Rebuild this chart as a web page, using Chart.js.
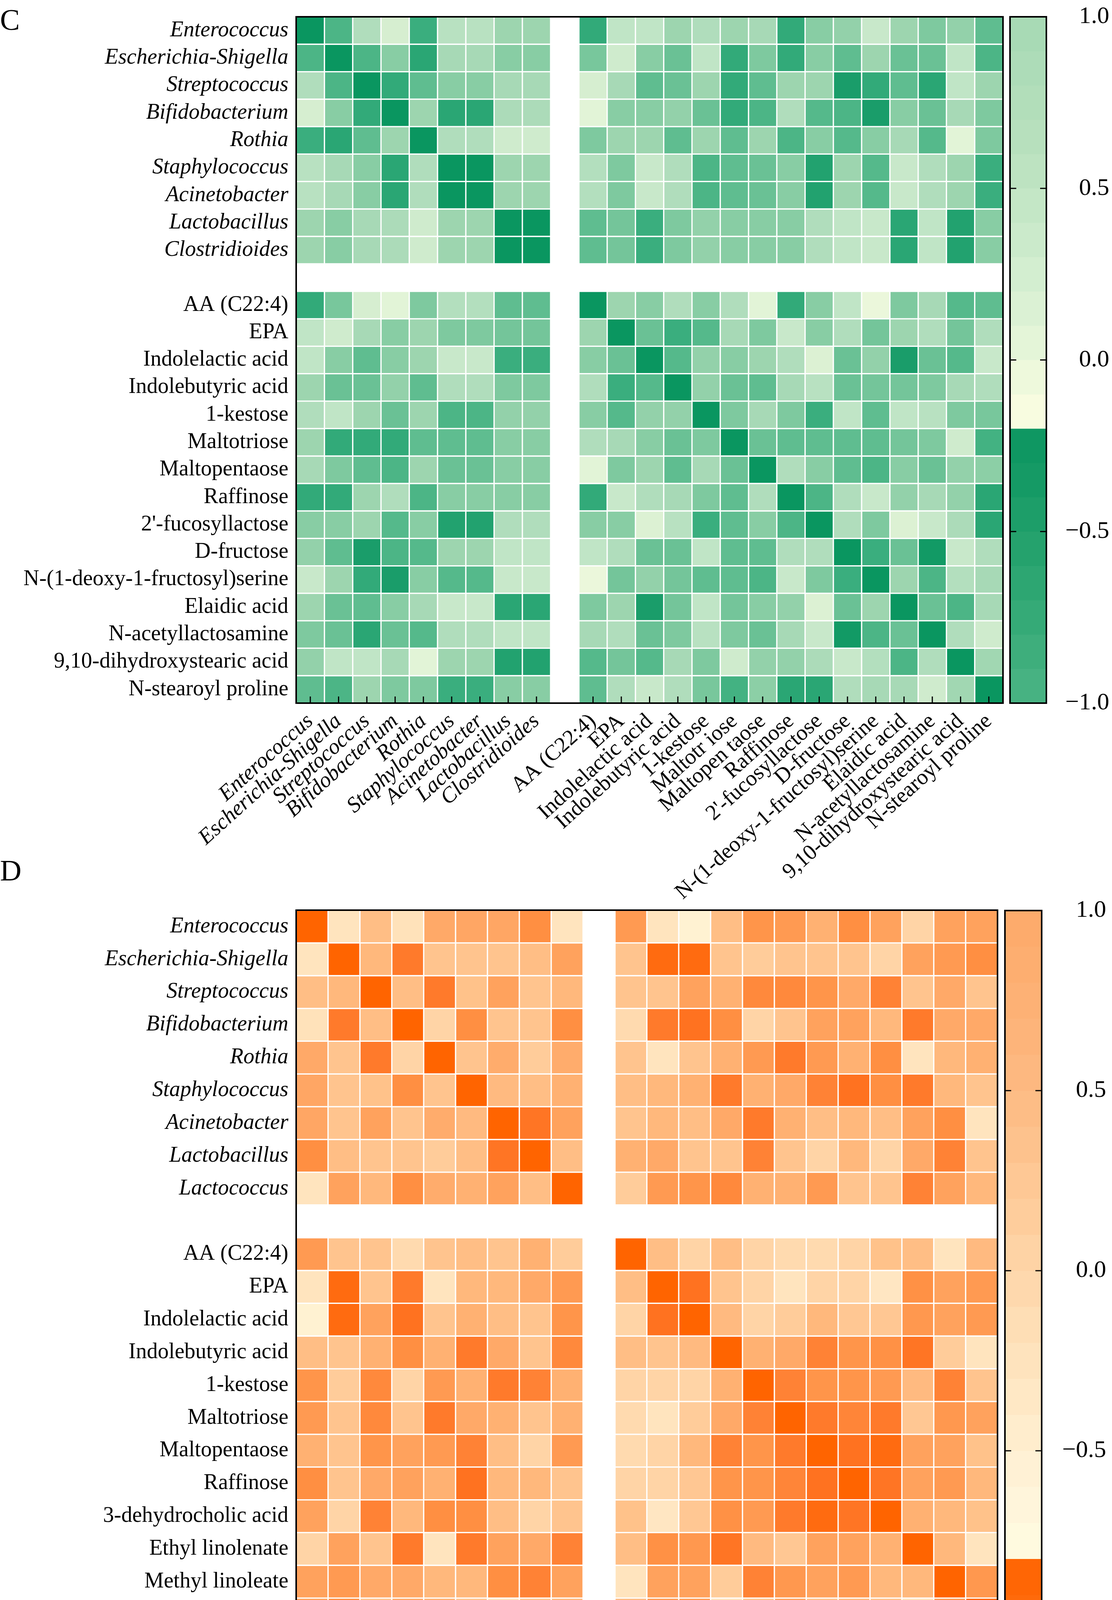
<!DOCTYPE html>
<html>
<head>
<meta charset="utf-8">
<script src="https://cdn.jsdelivr.net/npm/chart.js@4.4.1/dist/chart.umd.min.js"></script>
<style>
  html, body { margin: 0; background: #fff; }
  body { position: relative; width: 2846px; height: 4742px; overflow: hidden; font-family: 'Liberation Serif', 'Times New Roman', serif; }
  canvas { position: absolute; }
  .panel { position: absolute; left: 0; font-size: 76px; line-height: 1; color: #000; }
</style>
</head>
<body>
<div class="panel" style="top:12px">C</div>
<div class="panel" style="top:2190px">D</div>
<canvas id="heatC" width="2572" height="2330" style="left:0;top:0"></canvas>
<canvas id="barC" width="276" height="1850" style="left:2570px;top:0"></canvas>
<canvas id="heatD" width="2560" height="2542" style="left:0;top:2200px"></canvas>
<canvas id="barD" width="286" height="2050" style="left:2560px;top:2200px"></canvas>
<script>
// ---- panel C labels
const bacteriaC = ['Enterococcus', 'Escherichia-Shigella', 'Streptococcus', 'Bifidobacterium', 'Rothia',
  'Staphylococcus', 'Acinetobacter', 'Lactobacillus', 'Clostridioides'];
const metabolitesC = ['AA (C22:4)', 'EPA', 'Indolelactic acid', 'Indolebutyric acid', '1-kestose', 'Maltotriose',
  'Maltopentaose', 'Raffinose', "2'-fucosyllactose", 'D-fructose', 'N-(1-deoxy-1-fructosyl)serine', 'Elaidic acid',
  'N-acetyllactosamine', '9,10-dihydroxystearic acid', 'N-stearoyl proline'];
// the bottom axis of the figure spells two of them differently
const metaboliteTicksC = ['AA (C22:4)', 'EPA', 'Indolelactic acid', 'Indolebutyric acid', '1-kestose', 'Maltotr iose',
  'Maltopen taose', 'Raffinose', "2'-fucosyllactose", 'D-fructose', 'N-(1-deoxy-1-fructosyl)serine', 'Elaidic acid',
  'N-acetyllactosamine', '9,10-dihydroxystearic acid', 'N-stearoyl proline'];

// correlation matrix C, rows in the order bacteriaC + metabolitesC
const corrC = [
  [1.0, 0.6, 0.1, -0.15, 0.7, 0.05, 0.05, 0.2, 0.2, 0.75, 0.0, 0.0, 0.2, 0.1, 0.2, 0.15, 0.75, 0.3, 0.25, -0.05, 0.2, 0.35, 0.25, 0.5],
  [0.6, 1.0, 0.6, 0.3, 0.8, 0.15, 0.15, 0.3, 0.3, 0.38, -0.1, 0.3, 0.45, 0.0, 0.75, 0.35, 0.75, 0.3, 0.5, 0.2, 0.45, 0.45, 0.0, 0.6],
  [0.1, 0.6, 1.0, 0.75, 0.5, 0.3, 0.3, 0.15, 0.15, -0.15, 0.15, 0.5, 0.45, 0.2, 0.75, 0.5, 0.2, 0.2, 0.9, 0.75, 0.5, 0.8, 0.0, 0.2],
  [-0.15, 0.3, 0.75, 1.0, 0.2, 0.8, 0.8, 0.12, 0.12, -0.25, 0.3, 0.3, 0.25, 0.45, 0.75, 0.6, 0.1, 0.55, 0.6, 0.9, 0.3, 0.45, 0.15, 0.35],
  [0.7, 0.8, 0.5, 0.2, 1.0, 0.1, 0.1, -0.1, -0.1, 0.35, 0.2, 0.2, 0.5, 0.2, 0.5, 0.2, 0.6, 0.3, 0.55, 0.3, 0.15, 0.55, -0.25, 0.35],
  [0.05, 0.15, 0.3, 0.8, 0.1, 1.0, 1.0, 0.2, 0.2, 0.08, 0.35, -0.05, 0.1, 0.6, 0.5, 0.45, 0.3, 0.85, 0.2, 0.55, -0.05, 0.1, 0.2, 0.7],
  [0.05, 0.15, 0.3, 0.8, 0.1, 1.0, 1.0, 0.2, 0.2, 0.08, 0.35, -0.05, 0.1, 0.6, 0.5, 0.45, 0.3, 0.85, 0.2, 0.55, -0.05, 0.1, 0.2, 0.7],
  [0.2, 0.3, 0.15, 0.12, -0.1, 0.2, 0.2, 1.0, 1.0, 0.5, 0.4, 0.7, 0.35, 0.25, 0.3, 0.3, 0.3, 0.1, 0.0, -0.05, 0.8, 0.0, 0.85, 0.3],
  [0.2, 0.3, 0.15, 0.12, -0.1, 0.2, 0.2, 1.0, 1.0, 0.5, 0.4, 0.7, 0.35, 0.25, 0.3, 0.3, 0.3, 0.1, 0.0, -0.05, 0.8, 0.0, 0.85, 0.3],
  [0.75, 0.38, -0.15, -0.25, 0.35, 0.08, 0.08, 0.5, 0.5, 1.0, 0.2, 0.3, 0.1, 0.3, 0.1, -0.25, 0.75, 0.3, 0.0, -0.35, 0.35, 0.15, 0.55, 0.5],
  [0.0, -0.1, 0.15, 0.3, 0.2, 0.35, 0.35, 0.4, 0.4, 0.2, 1.0, 0.45, 0.7, 0.55, 0.15, 0.35, -0.05, 0.3, 0.1, 0.4, 0.2, 0.1, 0.4, 0.1],
  [0.0, 0.3, 0.5, 0.3, 0.2, -0.05, -0.05, 0.7, 0.7, 0.3, 0.45, 1.0, 0.55, 0.25, 0.3, 0.2, 0.1, -0.2, 0.45, 0.25, 0.9, 0.45, 0.55, -0.05],
  [0.2, 0.45, 0.45, 0.25, 0.5, 0.1, 0.1, 0.35, 0.35, 0.1, 0.7, 0.55, 1.0, 0.25, 0.45, 0.5, 0.15, 0.05, 0.45, 0.4, 0.4, 0.35, 0.15, 0.1],
  [0.1, 0.0, 0.2, 0.45, 0.2, 0.6, 0.6, 0.25, 0.25, 0.3, 0.55, 0.25, 0.25, 1.0, 0.35, 0.15, 0.35, 0.7, 0.0, 0.5, 0.0, 0.05, 0.35, 0.38],
  [0.2, 0.75, 0.75, 0.75, 0.5, 0.5, 0.5, 0.3, 0.3, 0.1, 0.15, 0.3, 0.45, 0.35, 1.0, 0.45, 0.5, 0.5, 0.5, 0.5, 0.4, 0.35, -0.1, 0.65],
  [0.15, 0.35, 0.5, 0.6, 0.2, 0.45, 0.45, 0.3, 0.3, -0.25, 0.35, 0.2, 0.5, 0.15, 0.45, 1.0, 0.1, 0.3, 0.5, 0.6, 0.3, 0.45, 0.25, 0.28],
  [0.75, 0.75, 0.2, 0.1, 0.6, 0.3, 0.3, 0.3, 0.3, 0.75, -0.05, 0.1, 0.15, 0.35, 0.5, 0.1, 1.0, 0.6, 0.1, -0.05, 0.25, 0.15, 0.25, 0.8],
  [0.3, 0.3, 0.2, 0.55, 0.3, 0.85, 0.85, 0.1, 0.1, 0.3, 0.3, -0.2, 0.05, 0.7, 0.5, 0.3, 0.6, 1.0, 0.1, 0.35, -0.2, -0.05, 0.12, 0.8],
  [0.25, 0.5, 0.9, 0.6, 0.55, 0.2, 0.2, 0.0, 0.0, 0.0, 0.1, 0.45, 0.45, 0.0, 0.5, 0.5, 0.1, 0.1, 1.0, 0.7, 0.45, 0.95, -0.05, 0.1],
  [-0.05, 0.2, 0.75, 0.9, 0.3, 0.55, 0.55, -0.05, -0.05, -0.35, 0.4, 0.25, 0.4, 0.5, 0.5, 0.6, -0.05, 0.35, 0.7, 1.0, 0.2, 0.6, 0.08, 0.15],
  [0.2, 0.45, 0.5, 0.3, 0.15, -0.05, -0.05, 0.8, 0.8, 0.35, 0.2, 0.9, 0.4, 0.0, 0.4, 0.3, 0.25, -0.2, 0.45, 0.2, 1.0, 0.45, 0.6, 0.15],
  [0.35, 0.45, 0.8, 0.45, 0.55, 0.1, 0.1, 0.0, 0.0, 0.15, 0.1, 0.45, 0.35, 0.05, 0.35, 0.45, 0.15, -0.05, 0.95, 0.6, 0.45, 1.0, 0.1, -0.1],
  [0.25, 0.0, 0.0, 0.15, -0.25, 0.2, 0.2, 0.85, 0.85, 0.55, 0.4, 0.55, 0.15, 0.35, -0.1, 0.25, 0.25, 0.12, -0.05, 0.08, 0.6, 0.1, 1.0, 0.18],
  [0.5, 0.6, 0.2, 0.35, 0.35, 0.7, 0.7, 0.3, 0.3, 0.5, 0.1, -0.05, 0.1, 0.38, 0.65, 0.28, 0.8, 0.8, 0.1, 0.15, 0.15, -0.1, 0.18, 1.0]
];

// ---- panel D labels
const bacteriaD = ['Enterococcus', 'Escherichia-Shigella', 'Streptococcus', 'Bifidobacterium', 'Rothia',
  'Staphylococcus', 'Acinetobacter', 'Lactobacillus', 'Lactococcus'];
const metabolitesD = ['AA (C22:4)', 'EPA', 'Indolelactic acid', 'Indolebutyric acid', '1-kestose', 'Maltotriose',
  'Maltopentaose', 'Raffinose', '3-dehydrocholic acid', 'Ethyl linolenate', 'Methyl linoleate',
  'Conjugated linoleic acids (CLA)'];
const metaboliteTicksD = ['AA (C22:4)', 'EPA', 'Indolelactic acid', 'Indolebutyric acid', '1-kestose', 'Maltotriose',
  'Maltopentaose', 'Raffinose', '3 -dehydrocholic acid', 'Ethyl linolenate', 'Methyl linoleate',
  'Conjugated linoleic acids (CLA)'];

const corrD = [
  [1.0, 0.05, 0.35, 0.08, 0.5, 0.52, 0.52, 0.7, 0.05, 0.6, 0.05, -0.1, 0.35, 0.65, 0.6, 0.45, 0.7, 0.55, 0.2, 0.55, 0.55],
  [0.05, 1.0, 0.4, 0.85, 0.3, 0.3, 0.3, 0.35, 0.55, 0.3, 0.95, 0.95, 0.3, 0.25, 0.3, 0.3, 0.3, 0.2, 0.55, 0.6, 0.7],
  [0.35, 0.4, 1.0, 0.35, 0.85, 0.32, 0.55, 0.3, 0.4, 0.3, 0.3, 0.55, 0.45, 0.75, 0.75, 0.65, 0.5, 0.8, 0.3, 0.5, 0.3],
  [0.08, 0.85, 0.35, 1.0, 0.2, 0.7, 0.3, 0.3, 0.7, 0.15, 0.85, 0.9, 0.7, 0.2, 0.3, 0.55, 0.55, 0.4, 0.85, 0.5, 0.5],
  [0.5, 0.3, 0.85, 0.2, 1.0, 0.3, 0.48, 0.25, 0.48, 0.3, 0.05, 0.3, 0.45, 0.6, 0.85, 0.6, 0.45, 0.7, 0.05, 0.4, 0.45],
  [0.52, 0.3, 0.32, 0.7, 0.3, 1.0, 0.38, 0.35, 0.45, 0.35, 0.4, 0.45, 0.85, 0.45, 0.5, 0.8, 0.9, 0.7, 0.85, 0.4, 0.3],
  [0.52, 0.3, 0.55, 0.3, 0.48, 0.38, 1.0, 0.88, 0.55, 0.3, 0.4, 0.35, 0.5, 0.85, 0.45, 0.35, 0.4, 0.35, 0.55, 0.7, 0.05],
  [0.7, 0.35, 0.3, 0.3, 0.25, 0.35, 0.88, 1.0, 0.35, 0.45, 0.5, 0.3, 0.3, 0.8, 0.3, 0.2, 0.4, 0.2, 0.5, 0.8, 0.3],
  [0.05, 0.55, 0.4, 0.7, 0.48, 0.45, 0.55, 0.35, 1.0, 0.25, 0.6, 0.65, 0.75, 0.45, 0.45, 0.6, 0.3, 0.3, 0.8, 0.55, 0.4],
  [0.6, 0.3, 0.3, 0.15, 0.3, 0.35, 0.3, 0.45, 0.25, 1.0, 0.35, 0.2, 0.35, 0.2, 0.15, 0.15, 0.2, 0.32, 0.35, 0.05, 0.38],
  [0.05, 0.95, 0.3, 0.85, 0.05, 0.4, 0.4, 0.5, 0.6, 0.35, 1.0, 0.9, 0.3, 0.2, 0.05, 0.2, 0.2, 0.02, 0.68, 0.55, 0.6],
  [-0.1, 0.95, 0.55, 0.9, 0.3, 0.45, 0.35, 0.3, 0.65, 0.2, 0.9, 1.0, 0.38, 0.2, 0.25, 0.4, 0.28, 0.28, 0.62, 0.55, 0.6],
  [0.35, 0.3, 0.45, 0.7, 0.45, 0.85, 0.5, 0.3, 0.75, 0.35, 0.3, 0.38, 1.0, 0.45, 0.5, 0.8, 0.65, 0.68, 0.88, 0.25, 0.05],
  [0.65, 0.25, 0.75, 0.2, 0.6, 0.45, 0.85, 0.8, 0.45, 0.2, 0.2, 0.2, 0.45, 1.0, 0.8, 0.65, 0.65, 0.6, 0.38, 0.8, 0.3],
  [0.6, 0.3, 0.75, 0.3, 0.85, 0.5, 0.45, 0.3, 0.45, 0.15, 0.05, 0.25, 0.5, 0.8, 1.0, 0.85, 0.78, 0.85, 0.28, 0.62, 0.55],
  [0.45, 0.3, 0.65, 0.55, 0.6, 0.8, 0.35, 0.2, 0.6, 0.15, 0.2, 0.4, 0.8, 0.65, 0.85, 1.0, 0.9, 0.95, 0.55, 0.55, 0.32],
  [0.7, 0.3, 0.5, 0.55, 0.45, 0.9, 0.4, 0.4, 0.3, 0.2, 0.2, 0.28, 0.65, 0.65, 0.78, 0.9, 1.0, 0.88, 0.55, 0.6, 0.4],
  [0.55, 0.2, 0.8, 0.4, 0.7, 0.7, 0.35, 0.2, 0.3, 0.32, 0.02, 0.28, 0.68, 0.6, 0.85, 0.95, 0.88, 1.0, 0.45, 0.4, 0.32],
  [0.2, 0.55, 0.3, 0.85, 0.05, 0.85, 0.55, 0.5, 0.8, 0.35, 0.68, 0.62, 0.88, 0.38, 0.28, 0.55, 0.55, 0.45, 1.0, 0.4, 0.05],
  [0.55, 0.6, 0.5, 0.5, 0.4, 0.4, 0.7, 0.8, 0.55, 0.05, 0.55, 0.55, 0.25, 0.8, 0.62, 0.55, 0.6, 0.4, 0.4, 1.0, 0.62],
  [0.55, 0.7, 0.3, 0.5, 0.45, 0.3, 0.05, 0.3, 0.4, 0.38, 0.6, 0.6, 0.05, 0.3, 0.55, 0.32, 0.4, 0.32, 0.05, 0.62, 1.0]
];

// colour bar: band tops (band height 0.1) and its tick labels
const bandTops = [1.0, 0.9, 0.8, 0.7, 0.6, 0.5, 0.4, 0.3, 0.2, 0.1, 0.0, -0.1, -0.2, -0.3, -0.4, -0.5, -0.6, -0.7, -0.8, -0.9];
const barTicks = [1.0, 0.5, 0.0, -0.5, -1.0];

// ---- styles
const SERIF = "'Liberation Serif', 'Times New Roman', serif";
const greenStops = [[1.0, '#0a9660'], [0.9, '#1a9d6a'], [0.8, '#2aa674'], [0.7, '#3aae7e'], [0.6, '#4cb586'],
  [0.5, '#5fbd90'], [0.4, '#74c59a'], [0.3, '#88cda4'], [0.2, '#9dd5af'], [0.1, '#b0ddbc'], [0.0, '#c0e5c6'],
  [-0.1, '#cfebcd'], [-0.2, '#dcf1d3'], [-0.3, '#e8f6da'], [-0.5, '#f5fade'], [-1.0, '#fafde0']];
const orangeStops = [[1.0, '#ff6400'], [0.9, '#ff7220'], [0.8, '#ff8235'], [0.7, '#ff8f42'], [0.6, '#ff9a52'],
  [0.5, '#ffa968'], [0.4, '#ffb87c'], [0.3, '#ffc48e'], [0.2, '#ffd4a6'], [0.1, '#ffe0b8'], [0.0, '#ffe8c4'],
  [-0.1, '#fff2d2'], [-0.5, '#fffbe0'], [-1.0, '#fffde6']];
// the printed colour bars, top band first
const greenBar = ['#a8dab5', '#addcb8', '#b2deba', '#b7e0bd', '#bde3c1', '#c4e7c6', '#cbeacb', '#d3eed0', '#dbf1d4',
  '#e4f5d8', '#eef9dc', '#f8fce0', '#0f9762', '#159a65', '#1d9e69', '#25a26d', '#2da672', '#35aa77', '#3eae7c', '#47b282'];
const orangeBar = ['#fdab6c', '#fdae70', '#fdb175', '#fdb47a', '#fdb880', '#fdbd86', '#fdc28d', '#fec895', '#fecd9c',
  '#fed3a5', '#fed8ad', '#fedeb5', '#fee3bd', '#ffe8c5', '#ffedcd', '#fff1d5', '#fff5db', '#fffadf', '#ff6605', '#ff6a0b'];

function rgb(hex) {
  const n = parseInt(hex.slice(1), 16);
  return [(n >> 16) & 255, (n >> 8) & 255, n & 255];
}
function colorFor(stops, r) {
  for (let i = 0; i < stops.length - 1; i++) {
    const [r0, c0] = stops[i], [r1, c1] = stops[i + 1];
    if (r <= r0 && r >= r1) {
      const t = (r0 - r) / (r0 - r1), a = rgb(c0), b = rgb(c1);
      return 'rgb(' + a.map((v, k) => Math.round(v + (b[k] - v) * t)).join(',') + ')';
    }
  }
  return stops[stops.length - 1][1];
}

// black frame round the plot, plus the short inward ticks of the figure
const framePlugin = {
  id: 'frame',
  afterDatasetsDraw(chart, args, opts) {
    const { ctx, chartArea: a, scales } = chart;
    ctx.save();
    ctx.strokeStyle = '#000';
    ctx.lineWidth = 4;
    ctx.strokeRect(a.left, a.top, a.right - a.left, a.bottom - a.top);
    ctx.lineWidth = 3;
    ctx.beginPath();
    if (opts.bottomTicks) {
      chart.data.labels.forEach((lab, i) => {
        if (!lab) return;
        const x = scales.x.getPixelForTick(i);
        ctx.moveTo(x, a.bottom);
        ctx.lineTo(x, a.bottom - 17);
      });
    }
    if (opts.sideTicks) {
      opts.sideTicks.forEach(v => {
        const y = scales.y.getPixelForValue(v);
        ctx.moveTo(a.left, y); ctx.lineTo(a.left + 16, y);
        ctx.moveTo(a.right, y); ctx.lineTo(a.right - 16, y);
      });
    }
    ctx.stroke();
    ctx.restore();
  }
};

function heatmap(id, o) {
  const split = o.split;
  const slotOf = i => (i < split ? i : i + 1);
  const nSlots = o.rows.length + 1;
  const xLabels = [...o.cols.slice(0, split), '', ...o.cols.slice(split)];
  const datasets = o.rows.map((name, i) => ({
    label: name,
    data: xLabels.map((lab, k) => (k === split ? null : [slotOf(i), slotOf(i) + 1])),
    backgroundColor: xLabels.map((lab, k) => (k === split ? 'rgba(0,0,0,0)'
      : colorFor(o.stops, o.values[i][k < split ? k : k - 1]))),
    borderColor: '#ffffff',
    borderWidth: 2,
    borderSkipped: false,
    grouped: false,
    barPercentage: 1,
    categoryPercentage: 1
  }));
  const tickFont = ctx => ({ family: SERIF, size: 56, style: ctx.index < split ? 'italic' : 'normal' });
  return new Chart(document.getElementById(id), {
    type: 'bar',
    data: { labels: xLabels, datasets },
    plugins: [framePlugin],
    options: {
      responsive: false,
      animation: false,
      devicePixelRatio: 1,
      layout: { padding: { top: o.top, right: o.right, left: 0, bottom: 0 } },
      plugins: { legend: { display: false }, tooltip: { enabled: false }, frame: { bottomTicks: true } },
      scales: {
        x: {
          type: 'category',
          offset: true,
          grid: { display: false, drawTicks: false },
          border: { display: false },
          ticks: { autoSkip: false, maxRotation: 42, minRotation: 42, padding: 14, color: '#000', font: tickFont },
          afterFit: s => { s.height = o.xAxisH; s.paddingLeft = 0; s.paddingRight = 0; }
        },
        y: {
          type: 'linear',
          min: 0,
          max: nSlots,
          reverse: true,
          grid: { display: false, drawTicks: false },
          border: { display: false },
          afterBuildTicks: s => { s.ticks = o.rows.map((r, i) => ({ value: slotOf(i) + 0.5 })); },
          ticks: { autoSkip: false, padding: 20, color: '#000', font: tickFont, callback: (v, i) => o.rows[i] },
          afterFit: s => { s.width = o.yAxisW; s.paddingTop = 0; s.paddingBottom = 0; }
        }
      }
    }
  });
}

function colorBar(id, o) {
  const datasets = bandTops.map((top, i) => ({
    data: [[top - 0.1, top]],
    backgroundColor: o.palette[i],
    borderWidth: 0,
    grouped: false,
    barPercentage: 1,
    categoryPercentage: 1
  }));
  return new Chart(document.getElementById(id), {
    type: 'bar',
    data: { labels: [''], datasets },
    plugins: [framePlugin],
    options: {
      responsive: false,
      animation: false,
      devicePixelRatio: 1,
      layout: { padding: o.padding },
      plugins: { legend: { display: false }, tooltip: { enabled: false }, frame: { sideTicks: [0.5, 0, -0.5] } },
      scales: {
        x: { display: false, offset: true },
        y: {
          type: 'linear',
          position: 'right',
          min: -1,
          max: 1,
          grid: { display: false, drawTicks: false },
          border: { display: false },
          afterBuildTicks: s => { s.ticks = barTicks.map(v => ({ value: v })); },
          ticks: {
            color: '#000',
            crossAlign: 'far',
            font: { family: SERIF, size: 62 },
            callback: v => (v < 0 ? '\u2212' : '') + Math.abs(v).toFixed(1)
          },
          afterFit: s => { s.width = o.axisW; s.paddingTop = 0; s.paddingBottom = 0; }
        }
      }
    }
  });
}

heatmap('heatC', {
  rows: [...bacteriaC, ...metabolitesC],
  cols: [...bacteriaC, ...metaboliteTicksC],
  values: corrC, split: bacteriaC.length, stops: greenStops,
  top: 43, right: 5, yAxisW: 758, xAxisH: 530
});
colorBar('barC', { palette: greenBar, padding: { left: 15, top: 43, right: 7, bottom: 50 }, axisW: 161 });

heatmap('heatD', {
  rows: [...bacteriaD, ...metabolitesD],
  cols: [...bacteriaD, ...metaboliteTicksD],
  values: corrD, split: bacteriaD.length, stops: orangeStops,
  top: 130, right: 7, yAxisW: 758, xAxisH: 567
});
colorBar('barD', { palette: orangeBar, padding: { left: 12, top: 131, right: 15, bottom: 75 }, axisW: 165 });
</script>
</body>
</html>
